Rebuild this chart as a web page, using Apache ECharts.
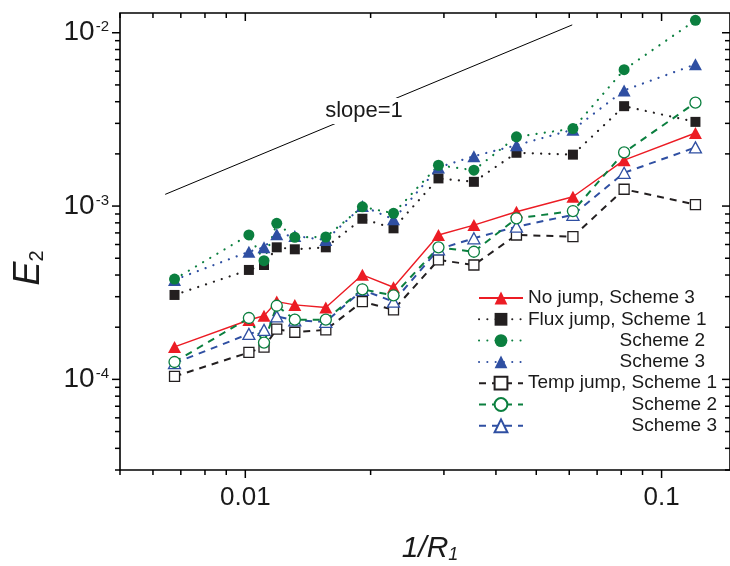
<!DOCTYPE html>
<html>
<head>
<meta charset="utf-8">
<script src="https://cdn.jsdelivr.net/npm/echarts@6.0.0/dist/echarts.min.js"></script>
<style>
  html, body { margin: 0; padding: 0; background: #fff; }
  #chart { width: 730px; height: 566px; }
</style>
</head>
<body>
<div id="chart"></div>
<script>
// 1/R1 values shared by every series
const xValues = [0.00676, 0.0102, 0.01109, 0.0119, 0.01315, 0.01561, 0.01911, 0.0227, 0.02911, 0.03541, 0.04481, 0.06124, 0.08128, 0.1206];

// E2 error norms
const noJumpS3 = [1.54e-4, 2.2e-4, 2.33e-4, 2.81e-4, 2.69e-4, 2.6e-4, 4.01e-4, 3.4e-4, 6.81e-4, 7.77e-4, 9.27e-4, 1.131e-3, 1.84e-3, 2.64e-3];
const fluxS1 = [3.07e-4, 4.28e-4, 4.57e-4, 5.78e-4, 5.63e-4, 5.78e-4, 8.45e-4, 7.44e-4, 1.444e-3, 1.38e-3, 2.03e-3, 1.98e-3, 3.77e-3, 3.06e-3];
const fluxS2 = [3.79e-4, 6.81e-4, 4.84e-4, 7.95e-4, 6.6e-4, 6.63e-4, 9.9e-4, 9.08e-4, 1.72e-3, 1.61e-3, 2.51e-3, 2.8e-3, 6.12e-3, 1.18e-2];
const fluxS3 = [3.75e-4, 5.45e-4, 5.78e-4, 6.87e-4, 6.72e-4, 6.37e-4, 1.0e-3, 8.38e-4, 1.67e-3, 1.94e-3, 2.245e-3, 2.76e-3, 4.65e-3, 6.57e-3];
const tempS1 = [1.04e-4, 1.43e-4, 1.536e-4, 1.95e-4, 1.87e-4, 1.93e-4, 2.81e-4, 2.52e-4, 4.89e-4, 4.57e-4, 6.81e-4, 6.66e-4, 1.25e-3, 1.02e-3];
const tempS2 = [1.26e-4, 2.26e-4, 1.63e-4, 2.66e-4, 2.21e-4, 2.21e-4, 3.31e-4, 3.05e-4, 5.78e-4, 5.45e-4, 8.5e-4, 9.36e-4, 2.04e-3, 3.95e-3];
const tempS3 = [1.24e-4, 1.83e-4, 1.93e-4, 2.31e-4, 2.19e-4, 2.15e-4, 3.28e-4, 2.81e-4, 5.63e-4, 6.52e-4, 7.6e-4, 8.9e-4, 1.555e-3, 2.18e-3];

// reference line of slope 1
const slopeX = [0.00642, 0.0610];
const slopeY = [1.168e-3, 1.11e-2];

// legend entries (series name -> shown text)
const seriesNames = ['No jump, Scheme 3', 'Flux jump, Scheme 1', 'Flux jump, Scheme 2', 'Flux jump, Scheme 3',
                     'Temp jump, Scheme 1', 'Temp jump, Scheme 2', 'Temp jump, Scheme 3'];
const legendText = ['No jump, Scheme 3', 'Flux jump, Scheme 1', 'Scheme 2', 'Scheme 3',
                    'Temp jump, Scheme 1', 'Scheme 2', 'Scheme 3'];

// axis range and tick values
const xRange = [0.005, 0.146];
const yRange = [3e-5, 1.3e-2];
const xMajor = [0.01, 0.1];
const xMinor = [0.005, 0.006, 0.007, 0.008, 0.009, 0.02, 0.03, 0.04, 0.05, 0.06, 0.07, 0.08, 0.09];
const yMajor = [1e-4, 1e-3, 1e-2];
const yMinor = [3e-5, 4e-5, 5e-5, 6e-5, 7e-5, 8e-5, 9e-5, 2e-4, 3e-4, 4e-4, 5e-4, 6e-4, 7e-4, 8e-4, 9e-4,
                2e-3, 3e-3, 4e-3, 5e-3, 6e-3, 7e-3, 8e-3, 9e-3];

const RED = '#ec1c24', GREEN = '#0b7f3f', BLUE = '#2f4fa2', BLACK = '#231f20';
const FONT = 'Liberation Sans, Arial, sans-serif';

const pairs = ys => xValues.map((x, i) => [x, ys[i]]);

const dotted = c => ({ color: c, width: 2.2, type: [0.1, 8.2], cap: 'round' });
const dashed = c => ({ color: c, width: 2, type: [7, 6] });

function filled(name, ys, color, symbol, size, line) {
  return {
    name, type: 'line', data: pairs(ys), symbol, symbolSize: size,
    color, lineStyle: line, itemStyle: { color }, emphasis: { disabled: true }, z: 3
  };
}
function hollow(name, ys, color, symbol, size, line) {
  return {
    name, type: 'line', data: pairs(ys), symbol, symbolSize: size,
    color, lineStyle: line, itemStyle: { color: '#fff', borderColor: color, borderWidth: 1.3 },
    emphasis: { disabled: true }, z: 3
  };
}

const series = [
  filled(seriesNames[0], noJumpS3, RED, 'triangle', [13, 12], { color: RED, width: 1.4, type: 'solid' }),
  hollow(seriesNames[4], tempS1, BLACK, 'rect', 10, dashed(BLACK)),
  hollow(seriesNames[6], tempS3, BLUE, 'triangle', [12, 11], dashed(BLUE)),
  hollow(seriesNames[5], tempS2, GREEN, 'circle', 11, dashed(GREEN)),
  filled(seriesNames[1], fluxS1, BLACK, 'rect', 10, dotted(BLACK)),
  filled(seriesNames[3], fluxS3, BLUE, 'triangle', [13, 12], dotted(BLUE)),
  filled(seriesNames[2], fluxS2, GREEN, 'circle', 11, dotted(GREEN)),
  {
    name: 'slope', type: 'line', data: slopeX.map((x, i) => [x, slopeY[i]]),
    symbol: 'none', lineStyle: { color: '#000', width: 1 }, silent: true, z: 1
  }
];

const chart = echarts.init(document.getElementById('chart'), null, { renderer: 'canvas' });

const isPow = v => Math.abs(Math.log10(v) - Math.round(Math.log10(v))) < 1e-6;

chart.setOption({
  animation: false,
  backgroundColor: '#fff',
  grid: { left: 120, top: 13, width: 615, height: 457, show: true, borderColor: '#000', borderWidth: 1.6, backgroundColor: 'transparent' },
  xAxis: {
    type: 'log', logBase: 10, min: xRange[0], max: xRange[1],
    axisLine: { show: false }, axisTick: { show: false }, splitLine: { show: false }, minorTick: { show: false },
    axisLabel: {
      margin: 15, color: '#1a1a1a', fontFamily: FONT, fontSize: 26, showMinLabel: false, showMaxLabel: false,
      formatter: v => isPow(v) ? v.toFixed(-Math.round(Math.log10(v))) : ''
    }
  },
  yAxis: {
    type: 'log', logBase: 10, min: yRange[0], max: yRange[1],
    axisLine: { show: false }, axisTick: { show: false }, splitLine: { show: false }, minorTick: { show: false },
    axisLabel: {
      margin: 11, showMinLabel: false, showMaxLabel: false,
      formatter: v => isPow(v) ? '{b|10}{s|' + Math.round(Math.log10(v)) + '}' : '',
      rich: {
        b: { fontFamily: FONT, fontSize: 28, lineHeight: 28, color: '#1a1a1a' },
        s: { fontFamily: FONT, fontSize: 15, lineHeight: 15, color: '#1a1a1a', verticalAlign: 'top', padding: [1, 0, 0, 1] }
      }
    }
  },
  legend: {
    orient: 'vertical', left: 478, top: 288.5, padding: 0,
    itemWidth: 44, itemHeight: 16, itemGap: 2.3,
    data: seriesNames,
    selectedMode: false,
    formatter: name => {
      const i = seriesNames.indexOf(name);
      const t = legendText[i];
      if (t === name) return '{l|' + t + '}';
      return (i < 4 ? '{r1|' : '{r2|') + t + '}';
    },
    textStyle: {
      fontFamily: FONT, fontSize: 19, color: '#1a1a1a', padding: [0, 0, 0, 0],
      rich: {
        l: { fontFamily: FONT, fontSize: 19, lineHeight: 21, color: '#1a1a1a' },
        r1: { fontFamily: FONT, fontSize: 19, lineHeight: 21, color: '#1a1a1a', width: 177, align: 'right' },
        r2: { fontFamily: FONT, fontSize: 19, lineHeight: 21, color: '#1a1a1a', width: 189, align: 'right' }
      }
    }
  },
  series
});

// axis ticks on all four sides: outward on left/bottom, inward on top/right
function buildDecor() {
  const px = v => chart.convertToPixel({ xAxisIndex: 0 }, v);
  const py = v => chart.convertToPixel({ yAxisIndex: 0 }, v);
  const x0 = px(xRange[0]), x1 = px(xRange[1]);
  const y0 = py(yRange[1]), y1 = py(yRange[0]);
  const els = [];
  const seg = (a, b, c, d) => els.push({
    type: 'line', silent: true, z: 10,
    shape: { x1: a, y1: b, x2: c, y2: d },
    style: { stroke: '#000', lineWidth: 1.5 }
  });
  const xt = (v, len) => { const p = px(v); seg(p, y1, p, y1 + len); seg(p, y0, p, y0 + len); };
  const yt = (v, len) => { const p = py(v); seg(x0 - len, p, x0, p); seg(x1 - len, p, x1, p); };
  xMajor.forEach(v => xt(v, 8));
  xMinor.forEach(v => xt(v, 5));
  yMajor.forEach(v => yt(v, 8));
  yMinor.forEach(v => yt(v, 5));

  // slope annotation, breaking the reference line
  els.push({
    type: 'text', silent: true, z: 12, x: 364, y: 111,
    style: {
      text: 'slope=1', fontFamily: FONT, fontSize: 22, fill: '#1a1a1a',
      align: 'center', verticalAlign: 'middle', backgroundColor: '#fff', padding: [2, 3, 2, 3]
    }
  });
  // axis titles
  els.push({
    type: 'text', silent: true, z: 12, x: 430, y: 549,
    style: {
      text: '{m|1/R}{s|1}', align: 'center', verticalAlign: 'middle',
      rich: {
        m: { fontFamily: FONT, fontStyle: 'italic', fontSize: 30, lineHeight: 30, fill: '#1a1a1a' },
        s: { fontFamily: FONT, fontStyle: 'italic', fontSize: 18, lineHeight: 18, fill: '#1a1a1a', verticalAlign: 'bottom' }
      }
    }
  });
  els.push({
    type: 'text', silent: true, z: 12, x: 29, y: 268, rotation: Math.PI / 2,
    style: {
      text: '{m|E}{s|2}', align: 'center', verticalAlign: 'middle',
      rich: {
        m: { fontFamily: FONT, fontStyle: 'italic', fontSize: 36, lineHeight: 36, fill: '#1a1a1a' },
        s: { fontFamily: FONT, fontSize: 20, lineHeight: 20, fill: '#1a1a1a', verticalAlign: 'bottom' }
      }
    }
  });
  chart.setOption({ graphic: { elements: els } });
}
buildDecor();
</script>
</body>
</html>
